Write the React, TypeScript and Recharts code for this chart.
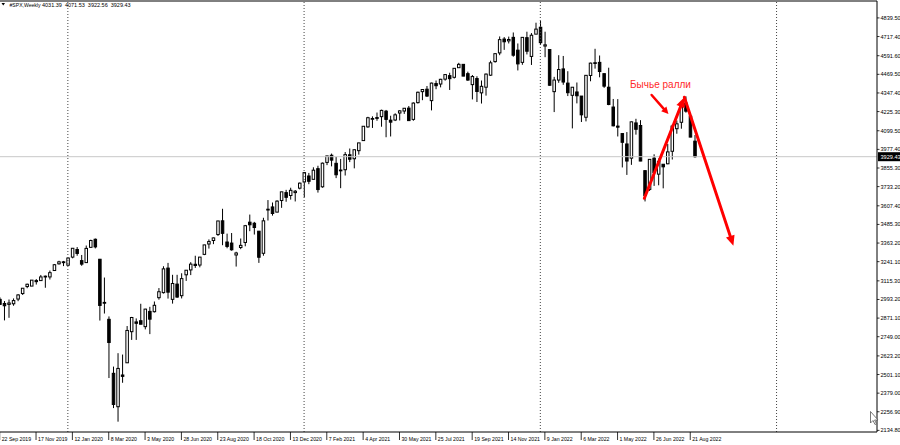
import React from 'react';
import { ComposedChart, Bar, XAxis, YAxis, ReferenceLine, ReferenceDot } from 'recharts';

// Weekly #SPX candles, week 0 = 22 Sep 2019 ... week 153 = 28 Aug 2022
const opens = [
  2994, 2967, 2961, 2965, 2996, 3032, 3078, 3081, 3117, 3117, 3143, 3141, 3183, 3227, 3240, 3218, 3271, 3321, 3248, 3235,
  3335, 3388, 3257, 2974, 2863, 2509, 2290, 2498, 2578, 2782, 2846, 2854, 2815, 2915, 2913, 3005, 3038, 3199, 2994, 3094,
  3018, 3155, 3187, 3224, 3219, 3289, 3357, 3380, 3419, 3509, 3370, 3363, 3285, 3334, 3367, 3500, 3493, 3441, 3296, 3583,
  3600, 3566, 3642, 3694, 3675, 3694, 3723, 3764, 3803, 3781, 3851, 3732, 3892, 3939, 3886, 3842, 3844, 3942, 3916, 3969,
  4035, 4125, 4180, 4186, 4192, 4228, 4169, 4170, 4216, 4229, 4248, 4174, 4284, 4356, 4372, 4297, 4409, 4406, 4438, 4461,
  4450, 4513, 4535, 4474, 4402, 4442, 4348, 4385, 4464, 4553, 4610, 4701, 4689, 4712, 4628, 4548, 4710, 4587, 4733, 4778,
  4655, 4632, 4356, 4432, 4505, 4412, 4332, 4354, 4327, 4188, 4462, 4541, 4548, 4474, 4385, 4255, 4130, 4081, 4013, 3920,
  4151, 4134, 3838, 3715, 3920, 3815, 3880, 3883, 3965, 4113, 4155, 4281, 4195, 4031.39,
];
const highs = [
  3007, 2983, 2993, 3000, 3028, 3067, 3097, 3120, 3127, 3154, 3150, 3183, 3226, 3247, 3246, 3268, 3329, 3337, 3285, 3347,
  3385, 3393, 3259, 3137, 2882, 2553, 2641, 2632, 2819, 2879, 2869, 2965, 2932, 2945, 2980, 3068, 3211, 3233, 3155, 3155,
  3165, 3185, 3238, 3280, 3272, 3352, 3387, 3399, 3509, 3588, 3425, 3429, 3306, 3393, 3482, 3550, 3502, 3441, 3529, 3645,
  3629, 3644, 3699, 3712, 3726, 3711, 3760, 3827, 3823, 3860, 3870, 3891, 3937, 3950, 3928, 3915, 3960, 3983, 3978, 4020,
  4129, 4191, 4194, 4219, 4238, 4236, 4198, 4214, 4234, 4249, 4262, 4286, 4356, 4372, 4393, 4415, 4429, 4440, 4468, 4480,
  4510, 4545, 4536, 4487, 4465, 4457, 4429, 4475, 4559, 4608, 4718, 4714, 4717, 4744, 4672, 4713, 4749, 4740, 4808, 4819,
  4749, 4632, 4453, 4595, 4590, 4490, 4385, 4416, 4327, 4465, 4546, 4637, 4593, 4474, 4513, 4308, 4307, 4082, 4091, 4160,
  4178, 4169, 3838, 3913, 3945, 3918, 3880, 4013, 4140, 4167, 4281, 4325, 4203, 4071.53,
];
const lows = [
  2957, 2856, 2873, 2952, 2982, 3023, 3067, 3081, 3091, 3117, 3070, 3124, 3183, 3222, 3212, 3213, 3263, 3280, 3214, 3234,
  3332, 3328, 2855, 2901, 2478, 2281, 2192, 2447, 2578, 2728, 2728, 2830, 2797, 2766, 2908, 2992, 3032, 2999, 2966, 3004,
  3000, 3115, 3153, 3200, 3204, 3284, 3327, 3356, 3410, 3349, 3329, 3313, 3209, 3323, 3342, 3441, 3419, 3233, 3280, 3511,
  3543, 3565, 3594, 3634, 3648, 3636, 3715, 3663, 3749, 3781, 3694, 3726, 3874, 3866, 3789, 3723, 3806, 3894, 3853, 3943,
  4034, 4119, 4118, 4165, 4126, 4057, 4062, 4163, 4167, 4210, 4165, 4165, 4278, 4300, 4321, 4233, 4372, 4384, 4428, 4367,
  4442, 4513, 4457, 4427, 4305, 4288, 4278, 4330, 4459, 4546, 4595, 4630, 4672, 4585, 4495, 4532, 4600, 4531, 4733, 4662,
  4582, 4395, 4222, 4414, 4401, 4327, 4115, 4279, 4157, 4161, 4424, 4507, 4450, 4381, 4267, 4128, 4062, 3859, 3810, 3876,
  4074, 3900, 3636, 3705, 3738, 3742, 3722, 3880, 3911, 4080, 4113, 4218, 4057, 3922.56,
];
const closes = [
  2961, 2952, 2970, 2986, 3023, 3067, 3093, 3120, 3110, 3141, 3146, 3169, 3221, 3240, 3235, 3265, 3329, 3295, 3225, 3328,
  3380, 3338, 2954, 2972, 2711, 2305, 2541, 2489, 2790, 2875, 2837, 2831, 2930, 2864, 2955, 3044, 3194, 3041, 3098, 3009,
  3130, 3185, 3225, 3216, 3271, 3351, 3373, 3397, 3508, 3427, 3341, 3319, 3298, 3348, 3477, 3483, 3465, 3270, 3509, 3585,
  3557, 3638, 3699, 3663, 3709, 3703, 3756, 3825, 3768, 3841, 3714, 3887, 3934, 3907, 3811, 3842, 3943, 3913, 3975, 4020,
  4129, 4185, 4180, 4181, 4233, 4174, 4156, 4204, 4230, 4247, 4166, 4281, 4352, 4370, 4327, 4412, 4395, 4437, 4468, 4441,
  4509, 4535, 4458, 4432, 4455, 4357, 4391, 4471, 4545, 4605, 4697, 4683, 4698, 4595, 4538, 4712, 4621, 4726, 4766, 4677,
  4663, 4398, 4432, 4501, 4419, 4349, 4385, 4329, 4204, 4463, 4543, 4546, 4488, 4392, 4272, 4132, 4123, 4024, 3901, 4158,
  4109, 3901, 3675, 3912, 3825, 3899, 3863, 3961, 4130, 4145, 4280, 4228, 4058, 3929.43,
];

const dateTickIdx = [0, 8, 16, 24, 32, 40, 48, 56, 64, 72, 80, 88, 96, 104, 112, 120, 128, 136, 144, 152];
const dateTickLabels = [
  '22 Sep 2019', '17 Nov 2019', '12 Jan 2020', '8 Mar 2020', '3 May 2020', '28 Jun 2020', '23 Aug 2020',
  '18 Oct 2020', '13 Dec 2020', '7 Feb 2021', '4 Apr 2021', '30 May 2021', '25 Jul 2021', '19 Sep 2021',
  '14 Nov 2021', '9 Jan 2022', '6 Mar 2022', '1 May 2022', '26 Jun 2022', '21 Aug 2022',
];
const priceTicks = [
  4839.5, 4717.4, 4591.6, 4469.5, 4347.4, 4225.3, 4099.5, 3977.4, 3855.3, 3733.2, 3607.4, 3485.3,
  3363.2, 3241.1, 3115.3, 2993.2, 2871.1, 2749.0, 2623.2, 2501.1, 2379.0, 2256.9, 2134.8,
];
const yearSeparators = [15, 67, 119, 171];
const lastPrice = 3929.43;
const symbolTitle = '#SPX,Weekly';
const titleValues = ['4031.39', '4071.53', '3922.56', '3929.43'];

const rallyLine = [{ x: 141.9, y: 3657 }, { x: 150.7, y: 4319 }];
const dropLine = [{ x: 150.7, y: 4319 }, { x: 161.5, y: 3346 }];
const pointerLine = [{ x: 143.5, y: 4334 }, { x: 147.2, y: 4209 }];
const noteText = 'Бычье ралли';
const notePos = { x: 145.45, y: 4377 };

const data = opens.map((o, i) => ({
  idx: i,
  o,
  h: highs[i],
  l: lows[i],
  c: closes[i],
  range: [lows[i], highs[i]],
}));

const W = 900;
const H = 445;
const PLOT_RIGHT = 877;
const PLOT_BOTTOM = 432;
const FONT = "Tahoma, 'Liberation Sans', Arial, sans-serif";
const RED = '#ff0000';

const Candle = (props: any) => {
  const { x, y, width, height, payload } = props;
  if (x == null || y == null || !payload) return null;
  const cx = x + width / 2;
  const top = Math.min(y, y + height);
  const bottom = Math.max(y, y + height);
  const { o, h, l, c } = payload;
  const span = h - l || 1;
  const py = (v: number) => top + ((h - v) / span) * (bottom - top);
  const yo = py(o);
  const yc = py(c);
  const bull = c >= o;
  const bt = Math.min(yo, yc);
  const bb = Math.max(yo, yc);
  return (
    <g>
      <line x1={cx} x2={cx} y1={top} y2={bottom} stroke="#000" strokeWidth={1} />
      <rect
        x={cx - 1.25}
        y={bt}
        width={2.5}
        height={Math.max(bb - bt, 0.8)}
        fill={bull ? '#ffffff' : '#000000'}
        stroke="#000"
        strokeWidth={1}
      />
    </g>
  );
};

const makeArrow = (headLen: number, headHalf: number, sw: number) => (props: any) => {
  const { x1, y1, x2, y2 } = props;
  if ([x1, y1, x2, y2].some((v) => v == null || isNaN(v))) return <g />;
  const ang = Math.atan2(y2 - y1, x2 - x1);
  const cs = Math.cos(ang);
  const sn = Math.sin(ang);
  const bx = x2 - headLen * cs;
  const by = y2 - headLen * sn;
  const pts = `${x2},${y2} ${bx - headHalf * sn},${by + headHalf * cs} ${bx + headHalf * sn},${by - headHalf * cs}`;
  return (
    <g>
      <line x1={x1} y1={y1} x2={bx + 1 * cs} y2={by + 1 * sn} stroke={RED} strokeWidth={sw} strokeLinecap="round" />
      <polygon points={pts} fill={RED} />
    </g>
  );
};

const DateTick = (props: any) => {
  const { x, payload } = props;
  const k = dateTickIdx.indexOf(payload.value);
  if (k < 0) return null;
  return (
    <g>
      <line x1={x} x2={x} y1={PLOT_BOTTOM} y2={PLOT_BOTTOM + 8} stroke="#000" strokeWidth={0.8} />
      <text x={x + 2} y={PLOT_BOTTOM + 8.5} fontSize={5.2} fontFamily={FONT} fill="#000">
        {dateTickLabels[k]}
      </text>
    </g>
  );
};

const PriceTick = (props: any) => {
  const { y, payload } = props;
  return (
    <g>
      <line x1={PLOT_RIGHT} x2={PLOT_RIGHT + 2.5} y1={y} y2={y} stroke="#000" strokeWidth={0.8} />
      <text x={PLOT_RIGHT + 3.5} y={y + 2} fontSize={5.6} fontFamily={FONT} fill="#000">
        {Number(payload.value).toFixed(2)}
      </text>
    </g>
  );
};

const PriceBox = (props: any) => {
  const vb = props.viewBox || {};
  const y = vb.y;
  if (y == null) return null;
  return (
    <g>
      <rect x={PLOT_RIGHT + 1} y={y - 4.5} width={W - PLOT_RIGHT - 1} height={9} fill="#000" />
      <text x={PLOT_RIGHT + 3.5} y={y + 2} fontSize={5.6} fontFamily={FONT} fill="#fff">
        {lastPrice.toFixed(2)}
      </text>
    </g>
  );
};

const NoteShape = (props: any) => {
  const { cx, cy } = props;
  return (
    <text x={cx} y={cy} textAnchor="middle" fontSize={10} fontFamily="'Liberation Sans', Arial, sans-serif" fill="#ff2a2a">
      {noteText}
    </text>
  );
};

export default function App() {
  return (
    <div style={{ position: 'absolute', left: 0, top: 0, width: W, height: H, background: '#fff', overflow: 'hidden' }}>
      <ComposedChart width={W} height={H} data={data} margin={{ top: 1, right: 0, bottom: 0, left: 0 }}>
        <XAxis
          dataKey="idx"
          type="number"
          domain={[0.066, 193.11]}
          allowDataOverflow
          ticks={dateTickIdx}
          interval={0}
          height={H - PLOT_BOTTOM}
          axisLine={{ stroke: '#000', strokeWidth: 1 }}
          tickLine={false}
          tick={<DateTick />}
        />
        <YAxis
          orientation="right"
          type="number"
          domain={[2124.2, 4950.4]}
          allowDataOverflow
          ticks={priceTicks}
          interval={0}
          width={W - PLOT_RIGHT}
          axisLine={{ stroke: '#000', strokeWidth: 1 }}
          tickLine={false}
          tick={<PriceTick />}
        />
        {yearSeparators.map((s) => (
          <ReferenceLine key={s} x={s} stroke="#444" strokeDasharray="1 2" strokeWidth={1} />
        ))}
        <ReferenceLine y={lastPrice} stroke="#c8c8c8" strokeWidth={1} label={(p: any) => <PriceBox {...p} />} />
        <ReferenceLine y={4950.4} stroke="#000" strokeWidth={1} />
        <Bar dataKey="range" barSize={3} shape={<Candle />} isAnimationActive={false} />
        <ReferenceLine segment={rallyLine} shape={makeArrow(10, 4.5, 3)} />
        <ReferenceLine segment={dropLine} shape={makeArrow(10, 4.5, 3)} />
        <ReferenceLine segment={pointerLine} shape={makeArrow(7, 3.5, 2.5)} />
        <ReferenceDot x={notePos.x} y={notePos.y} r={0} shape={<NoteShape />} />
      </ComposedChart>
      <svg width={W} height={H} style={{ position: 'absolute', left: 0, top: 0, pointerEvents: 'none' }}>
        <polygon points="1.5,3 5,3 3.25,5.5" fill="#000" />
        <text x={9.5} y={6.8} fontSize={5.1} fontFamily={FONT} fill="#000">
          {symbolTitle}
        </text>
        <text x={42} y={6.8} fontSize={5.5} fontFamily={FONT} fill="#000" wordSpacing={1.5}>
          {titleValues.join(' ')}
        </text>
        <path
          d="M870.5,411.5 L870.5,423 L873,420.5 L875,424.5 L876.5,423.8 L874.6,420 L878,420 Z"
          fill="#fff"
          stroke="#555"
          strokeWidth={0.8}
        />
      </svg>
    </div>
  );
}
